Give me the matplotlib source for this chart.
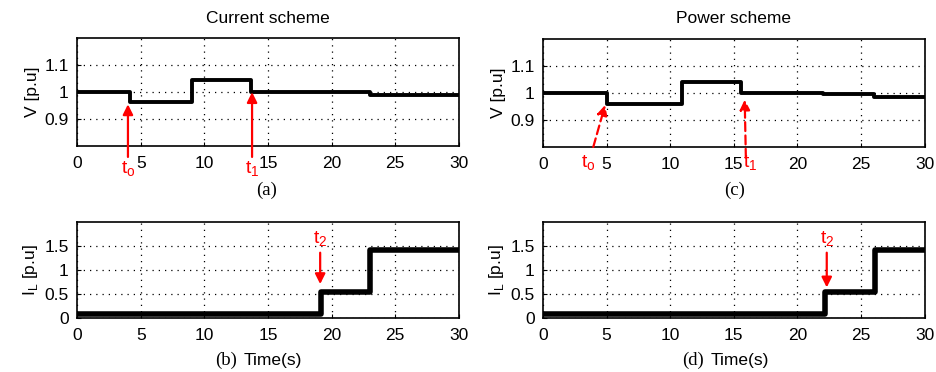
import matplotlib.pyplot as plt
import numpy as np

# step levels (time of each change, level after it)
cur_v_t = [0, 4.2, 9.0, 13.7, 23.0, 30]
cur_v = [1.0, 0.962, 1.043, 1.0, 0.988]
pow_v_t = [0, 5.0, 10.9, 15.6, 22.0, 26.0, 30]
pow_v = [1.0, 0.96, 1.04, 1.0, 0.995, 0.985]
cur_i_t = [0, 19.2, 23.0, 30]
cur_i = [0.08, 0.55, 1.42]
pow_i_t = [0, 22.2, 26.1, 30]
pow_i = [0.08, 0.55, 1.42]

sans = 'Liberation Sans'
serif = 'Liberation Serif'
fs = 12.5

fig = plt.figure(figsize=(9.36, 3.72), dpi=100)
W = 0.408
ax_a = fig.add_axes([0.0823, 0.607, W, 0.291])
ax_c = fig.add_axes([0.580, 0.605, W, 0.291])
ax_b = fig.add_axes([0.0823, 0.145, W, 0.258])
ax_d = fig.add_axes([0.580, 0.145, W, 0.258])


def step(ax, t, v, lw):
    ax.step(t, v + [v[-1]], where='post', color='black', lw=lw)


def style(ax, ylim, yticks, ylabel):
    ax.set_xlim(0, 30)
    ax.set_ylim(*ylim)
    ax.set_xticks([0, 5, 10, 15, 20, 25, 30])
    ax.set_yticks(yticks)
    ax.set_yticklabels(['%g' % y for y in yticks])
    ax.grid(True, color='black', linestyle=(0, (1, 4)), lw=0.9)
    ax.tick_params(direction='in', length=3, labelsize=fs)
    ax.tick_params(axis='x', pad=7)
    ax.tick_params(axis='y', pad=6)
    for lab in ax.get_xticklabels() + ax.get_yticklabels():
        lab.set_fontfamily(sans)
    for sp in ax.spines.values():
        sp.set_linewidth(1.2)
    ax.set_ylabel(ylabel, fontsize=fs, family=sans, labelpad=3)


step(ax_a, cur_v_t, cur_v, 2.8)
step(ax_c, pow_v_t, pow_v, 2.8)
step(ax_b, cur_i_t, cur_i, 4)
step(ax_d, pow_i_t, pow_i, 4)

for ax in (ax_a, ax_c):
    style(ax, (0.8, 1.2), [0.9, 1, 1.1], 'V [p.u]')
for ax in (ax_b, ax_d):
    style(ax, (0, 2), [0, 0.5, 1, 1.5], r'I$_\mathregular{L}$ [p.u]')

ax_a.set_title('Current scheme', fontsize=fs, family=sans, pad=11)
ax_c.set_title('Power scheme', fontsize=fs, family=sans, pad=11)

red = dict(color='red', fontsize=14, family=sans, va='center')
solid = dict(arrowstyle='-|>', color='red', lw=1.6, mutation_scale=15)
dashed = dict(arrowstyle='-|>', color='red', lw=1.6, mutation_scale=15,
              linestyle=(0, (4, 2)))

# (a)
ax_a.annotate('', xy=(4.0, 0.965), xytext=(4.0, 0.75),
              arrowprops=solid, annotation_clip=False)
ax_a.text(4.0, 0.715, r't$_\mathregular{o}$', clip_on=False, ha='center', **red)
ax_a.annotate('', xy=(13.75, 1.01), xytext=(13.75, 0.75),
              arrowprops=solid, annotation_clip=False)
ax_a.text(13.75, 0.715, r't$_\mathregular{1}$', clip_on=False, ha='center', **red)

# (c)
ax_c.annotate('', xy=(4.95, 0.965), xytext=(3.9, 0.79),
              arrowprops=dashed, annotation_clip=False)
ax_c.text(3.6, 0.74, r't$_\mathregular{o}$', clip_on=False, ha='center', **red)
ax_c.annotate('', xy=(15.85, 0.985), xytext=(15.95, 0.75),
              arrowprops=dashed, annotation_clip=False)
ax_c.text(15.75, 0.74, r't$_\mathregular{1}$', clip_on=False, ha='left', **red)

# (b), (d)
ax_b.annotate('', xy=(19.1, 0.65), xytext=(19.1, 1.42), arrowprops=solid)
ax_b.text(19.1, 1.64, r't$_\mathregular{2}$', ha='center', **red)
ax_d.annotate('', xy=(22.3, 0.58), xytext=(22.3, 1.42), arrowprops=solid)
ax_d.text(22.3, 1.64, r't$_\mathregular{2}$', ha='center', **red)

# sub-captions
fig.text(0.285, 0.489, '(a)', fontsize=fs + 1, family=serif, ha='center', va='center')
fig.text(0.785, 0.489, '(c)', fontsize=fs + 1, family=serif, ha='center', va='center')
fig.text(0.241, 0.032, '(b)', fontsize=fs + 1, family=serif, ha='center', va='center')
fig.text(0.292, 0.032, 'Time(s)', fontsize=fs, family=sans, ha='center', va='center')
fig.text(0.740, 0.032, '(d)', fontsize=fs + 1, family=serif, ha='center', va='center')
fig.text(0.790, 0.032, 'Time(s)', fontsize=fs, family=sans, ha='center', va='center')

fig.savefig('out.png', dpi=100)
